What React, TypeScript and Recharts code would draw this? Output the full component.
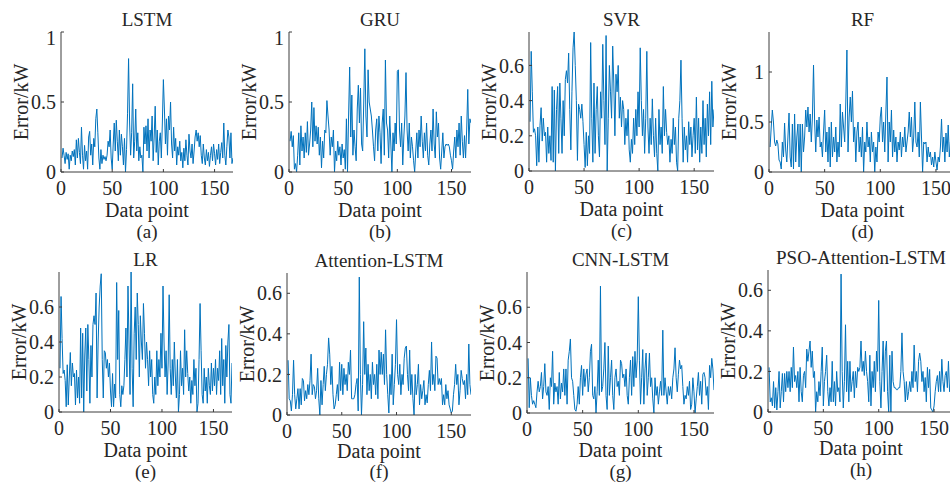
import React from 'react';
import { LineChart, Line, XAxis, YAxis } from 'recharts';

// prediction error of each model over the 168 test points
const lstmError = [
  0.10, 0.17, 0.12, 0.06, 0.14, 0.09, 0.13, 0.02, 0.12, 0.08, 0.15, 0.11,
  0.16, 0.05, 0.23, 0.10, 0.24, 0.14, 0.06, 0.32, 0.12, 0.02, 0.19, 0.08,
  0.15, 0.02, 0.25, 0.29, 0.12, 0.20, 0.05, 0.24, 0.18, 0.38, 0.45, 0.28,
  0.10, 0.02, 0.16, 0.06, 0.12, 0.09, 0.11, 0.08, 0.12, 0.22, 0.18, 0.30,
  0.10, 0.02, 0.20, 0.35, 0.15, 0.37, 0.22, 0.08, 0.30, 0.12, 0.27, 0.18,
  0.05, 0.24, 0.00, 0.16, 0.42, 0.81, 0.35, 0.12, 0.28, 0.63, 0.10, 0.22,
  0.45, 0.15, 0.28, 0.08, 0.18, 0.10, 0.12, 0.00, 0.32, 0.20, 0.33, 0.15,
  0.38, 0.10, 0.30, 0.22, 0.40, 0.08, 0.25, 0.47, 0.14, 0.30, 0.05, 0.22,
  0.28, 0.10, 0.35, 0.66, 0.45, 0.20, 0.38, 0.12, 0.40, 0.30, 0.50, 0.20,
  0.10, 0.32, 0.15, 0.24, 0.05, 0.18, 0.12, 0.22, 0.08, 0.14, 0.03, 0.17,
  0.08, 0.23, 0.12, 0.05, 0.27, 0.15, 0.10, 0.20, 0.06, 0.15, 0.25, 0.30,
  0.22, 0.28, 0.18, 0.26, 0.12, 0.06, 0.20, 0.10, 0.05, 0.16, 0.08, 0.14,
  0.04, 0.12, 0.18, 0.08, 0.20, 0.13, 0.05, 0.16, 0.09, 0.20, 0.06, 0.14,
  0.21, 0.10, 0.35, 0.12, 0.05, 0.18, 0.30, 0.25, 0.10, 0.28, 0.06, 0.10,
];

const gruError = [
  0.22, 0.29, 0.18, 0.26, 0.02, 0.06, 0.00, 0.12, 0.28, 0.05, 0.33, 0.15,
  0.25, 0.10, 0.28, 0.14, 0.36, 0.12, 0.20, 0.30, 0.50, 0.18, 0.46, 0.22,
  0.33, 0.20, 0.32, 0.12, 0.25, 0.03, 0.22, 0.10, 0.30, 0.28, 0.51, 0.40,
  0.30, 0.12, 0.25, 0.18, 0.30, 0.00, 0.15, 0.08, 0.22, 0.12, 0.18, 0.05,
  0.20, 0.10, 0.16, 0.02, 0.38, 0.00, 0.40, 0.75, 0.25, 0.55, 0.12, 0.30,
  0.18, 0.08, 0.45, 0.62, 0.35, 0.60, 0.20, 0.15, 0.50, 0.88, 0.40, 0.25,
  0.73, 0.50, 0.45, 0.40, 0.30, 0.18, 0.08, 0.30, 0.38, 0.15, 0.40, 0.28,
  0.06, 0.35, 0.45, 0.12, 0.80, 0.35, 0.30, 0.10, 0.40, 0.20, 0.00, 0.28,
  0.15, 0.35, 0.20, 0.72, 0.73, 0.30, 0.18, 0.35, 0.05, 0.25, 0.40, 0.71,
  0.30, 0.15, 0.35, 0.10, 0.25, 0.18, 0.08, 0.00, 0.15, 0.28, 0.10, 0.30,
  0.18, 0.40, 0.22, 0.10, 0.28, 0.15, 0.35, 0.12, 0.05, 0.20, 0.30, 0.15,
  0.45, 0.20, 0.10, 0.43, 0.25, 0.35, 0.10, 0.02, 0.15, 0.28, 0.10, 0.18,
  0.20, 0.19, 0.20, 0.18, 0.12, 0.08, 0.02, 0.15, 0.25, 0.10, 0.30, 0.18,
  0.35, 0.12, 0.40, 0.22, 0.10, 0.26, 0.10, 0.30, 0.59, 0.20, 0.38, 0.35,
];

const svrError = [
  0.28, 0.68, 0.45, 0.22, 0.24, 0.20, 0.03, 0.25, 0.05, 0.26, 0.36, 0.17,
  0.30, 0.20, 0.22, 0.05, 0.25, 0.10, 0.20, 0.06, 0.48, 0.05, 0.46, 0.00,
  0.35, 0.48, 0.10, 0.50, 0.30, 0.10, 0.40, 0.20, 0.52, 0.57, 0.50, 0.67,
  0.35, 0.12, 0.45, 0.70, 0.79, 0.60, 0.40, 0.06, 0.38, 0.35, 0.30, 0.38,
  0.28, 0.15, 0.02, 0.22, 0.03, 0.20, 0.10, 0.73, 0.30, 0.05, 0.50, 0.10,
  0.35, 0.48, 0.20, 0.08, 0.45, 0.30, 0.72, 0.40, 0.15, 0.77, 0.00, 0.30,
  0.60, 0.45, 0.30, 0.71, 0.50, 0.20, 0.55, 0.45, 0.60, 0.30, 0.42, 0.25,
  0.40, 0.35, 0.15, 0.30, 0.20, 0.35, 0.12, 0.05, 0.18, 0.10, 0.30, 0.15,
  0.35, 0.20, 0.45, 0.25, 0.70, 0.40, 0.20, 0.35, 0.10, 0.30, 0.68, 0.25,
  0.10, 0.30, 0.15, 0.41, 0.20, 0.08, 0.30, 0.10, 0.00, 0.35, 0.15, 0.25,
  0.10, 0.48, 0.20, 0.35, 0.22, 0.15, 0.20, 0.05, 0.18, 0.10, 0.30, 0.15,
  0.25, 0.05, 0.00, 0.30, 0.40, 0.63, 0.30, 0.05, 0.25, 0.12, 0.20, 0.05,
  0.28, 0.15, 0.25, 0.08, 0.20, 0.30, 0.10, 0.42, 0.12, 0.30, 0.05, 0.25,
  0.10, 0.40, 0.15, 0.30, 0.08, 0.38, 0.20, 0.45, 0.15, 0.51, 0.25, 0.35,
];

const rfError = [
  0.25, 0.45, 0.62, 0.50, 0.30, 0.26, 0.32, 0.28, 0.12, 0.10, 0.03, 0.30,
  0.15, 0.49, 0.22, 0.10, 0.35, 0.59, 0.15, 0.05, 0.48, 0.03, 0.58, 0.10,
  0.35, 0.48, 0.05, 0.48, 0.00, 0.48, 0.20, 0.35, 0.62, 0.45, 0.65, 0.40,
  0.58, 0.30, 0.55, 1.07, 0.50, 0.20, 0.52, 0.35, 0.55, 0.25, 0.30, 0.15,
  0.40, 0.62, 0.20, 0.40, 0.10, 0.45, 0.05, 0.50, 0.15, 0.35, 0.20, 0.45,
  0.10, 0.30, 0.15, 0.68, 0.25, 0.60, 0.45, 0.30, 0.70, 1.22, 0.20, 0.55,
  0.75, 0.50, 0.81, 0.30, 0.45, 0.10, 0.40, 0.50, 0.20, 0.35, 0.15, 0.45,
  0.00, 0.30, 0.20, 0.50, 0.25, 0.35, 0.10, 0.40, 0.20, 0.30, 0.00, 0.25,
  0.10, 0.40, 0.30, 0.55, 0.65, 0.30, 0.50, 0.20, 0.60, 0.95, 0.10, 0.50,
  0.30, 0.62, 0.15, 0.42, 0.20, 0.35, 0.10, 0.30, 0.22, 0.40, 0.15, 0.35,
  0.25, 0.45, 0.20, 0.30, 0.40, 0.60, 0.35, 0.55, 0.20, 0.35, 0.70, 0.30,
  0.25, 0.40, 0.15, 0.70, 0.35, 0.00, 0.30, 0.28, 0.30, 0.10, 0.25, 0.15,
  0.20, 0.07, 0.15, 0.05, 0.20, 0.10, 0.02, 0.15, 0.10, 0.25, 0.53, 0.20,
  0.35, 0.10, 0.39, 0.20, 0.47, 0.15, 0.30, 0.10, 0.35, 0.20, 0.30, 0.25,
];

const lrError = [
  0.25, 0.66, 0.42, 0.22, 0.24, 0.18, 0.03, 0.27, 0.04, 0.20, 0.34, 0.15,
  0.28, 0.20, 0.22, 0.04, 0.24, 0.08, 0.20, 0.05, 0.48, 0.08, 0.45, 0.00,
  0.32, 0.48, 0.12, 0.50, 0.30, 0.05, 0.38, 0.20, 0.50, 0.55, 0.50, 0.68,
  0.08, 0.40, 0.60, 0.72, 0.79, 0.30, 0.08, 0.35, 0.34, 0.25, 0.30, 0.20,
  0.28, 0.12, 0.03, 0.22, 0.03, 0.16, 0.08, 0.74, 0.30, 0.58, 0.10, 0.03,
  0.15, 0.10, 0.15, 0.30, 0.48, 0.20, 0.72, 0.40, 0.10, 0.80, 0.25, 0.03,
  0.45, 0.60, 0.30, 0.68, 0.50, 0.20, 0.55, 0.40, 0.30, 0.62, 0.45, 0.25,
  0.40, 0.30, 0.15, 0.35, 0.20, 0.30, 0.10, 0.05, 0.20, 0.10, 0.35, 0.15,
  0.30, 0.20, 0.45, 0.25, 0.72, 0.40, 0.20, 0.35, 0.10, 0.28, 0.67, 0.25,
  0.10, 0.30, 0.15, 0.40, 0.20, 0.08, 0.30, 0.00, 0.10, 0.35, 0.15, 0.25,
  0.10, 0.47, 0.20, 0.35, 0.22, 0.12, 0.20, 0.05, 0.18, 0.10, 0.30, 0.15,
  0.25, 0.00, 0.05, 0.30, 0.62, 0.35, 0.10, 0.05, 0.25, 0.12, 0.20, 0.05,
  0.25, 0.15, 0.10, 0.28, 0.12, 0.25, 0.15, 0.30, 0.10, 0.25, 0.18, 0.35,
  0.10, 0.42, 0.15, 0.30, 0.05, 0.38, 0.20, 0.40, 0.50, 0.10, 0.05, 0.28,
];

const attLstmError = [
  0.27, 0.08, 0.07, 0.02, 0.10, 0.27, 0.10, 0.03, 0.08, 0.13, 0.03, 0.13,
  0.05, 0.18, 0.17, 0.07, 0.12, 0.08, 0.15, 0.10, 0.17, 0.30, 0.10, 0.15,
  0.14, 0.08, 0.12, 0.23, 0.08, 0.00, 0.17, 0.05, 0.15, 0.24, 0.12, 0.20,
  0.25, 0.38, 0.30, 0.15, 0.24, 0.10, 0.03, 0.05, 0.10, 0.15, 0.07, 0.26,
  0.12, 0.25, 0.10, 0.23, 0.15, 0.20, 0.12, 0.26, 0.20, 0.32, 0.08, 0.08,
  0.08, 0.10, 0.15, 0.18, 0.02, 0.68, 0.20, 0.00, 0.15, 0.46, 0.20, 0.33,
  0.10, 0.25, 0.12, 0.20, 0.08, 0.26, 0.15, 0.20, 0.10, 0.25, 0.08, 0.32,
  0.20, 0.31, 0.20, 0.30, 0.15, 0.42, 0.20, 0.10, 0.01, 0.20, 0.10, 0.30,
  0.05, 0.15, 0.25, 0.47, 0.20, 0.15, 0.25, 0.10, 0.20, 0.15, 0.28, 0.33,
  0.34, 0.20, 0.12, 0.32, 0.10, 0.20, 0.08, 0.00, 0.20, 0.10, 0.15, 0.25,
  0.05, 0.15, 0.08, 0.12, 0.17, 0.05, 0.10, 0.06, 0.15, 0.22, 0.12, 0.36,
  0.15, 0.20, 0.12, 0.29, 0.28, 0.15, 0.18, 0.15, 0.18, 0.05, 0.10, 0.05,
  0.15, 0.08, 0.12, 0.05, 0.03, 0.01, 0.02, 0.10, 0.15, 0.25, 0.15, 0.20,
  0.05, 0.12, 0.22, 0.18, 0.15, 0.17, 0.08, 0.20, 0.10, 0.35, 0.15, 0.10,
];

const cnnLstmError = [
  0.31, 0.03, 0.20, 0.10, 0.05, 0.07, 0.05, 0.03, 0.12, 0.18, 0.12, 0.15,
  0.23, 0.08, 0.15, 0.28, 0.12, 0.10, 0.15, 0.02, 0.20, 0.15, 0.35, 0.05,
  0.17, 0.12, 0.15, 0.05, 0.23, 0.08, 0.17, 0.12, 0.25, 0.10, 0.25, 0.05,
  0.30, 0.35, 0.42, 0.20, 0.18, 0.10, 0.02, 0.01, 0.05, 0.15, 0.05, 0.20,
  0.27, 0.10, 0.25, 0.15, 0.22, 0.25, 0.12, 0.20, 0.35, 0.39, 0.10, 0.08,
  0.15, 0.00, 0.12, 0.30, 0.10, 0.72, 0.12, 0.15, 0.25, 0.40, 0.10, 0.02,
  0.38, 0.10, 0.20, 0.30, 0.10, 0.02, 0.20, 0.25, 0.15, 0.18, 0.10, 0.30,
  0.28, 0.20, 0.22, 0.15, 0.25, 0.10, 0.05, 0.20, 0.30, 0.10, 0.32, 0.15,
  0.35, 0.20, 0.30, 0.66, 0.30, 0.05, 0.20, 0.36, 0.05, 0.25, 0.34, 0.10,
  0.20, 0.34, 0.15, 0.20, 0.08, 0.00, 0.20, 0.10, 0.15, 0.05, 0.12, 0.18,
  0.10, 0.47, 0.10, 0.20, 0.12, 0.05, 0.15, 0.10, 0.15, 0.08, 0.20, 0.25,
  0.37, 0.20, 0.12, 0.22, 0.30, 0.25, 0.27, 0.15, 0.05, 0.10, 0.08, 0.15,
  0.10, 0.18, 0.02, 0.05, 0.20, 0.12, 0.00, 0.08, 0.15, 0.23, 0.10, 0.18,
  0.05, 0.22, 0.23, 0.20, 0.10, 0.15, 0.02, 0.27, 0.20, 0.31, 0.25, 0.13,
];

const psoAttLstmError = [
  0.22, 0.05, 0.07, 0.03, 0.15, 0.02, 0.12, 0.01, 0.10, 0.20, 0.02, 0.10,
  0.19, 0.05, 0.19, 0.10, 0.20, 0.12, 0.20, 0.10, 0.22, 0.12, 0.32, 0.15,
  0.18, 0.12, 0.20, 0.05, 0.22, 0.10, 0.05, 0.18, 0.20, 0.12, 0.31, 0.25,
  0.30, 0.35, 0.22, 0.30, 0.17, 0.20, 0.00, 0.10, 0.05, 0.15, 0.08, 0.20,
  0.32, 0.03, 0.15, 0.20, 0.28, 0.10, 0.03, 0.12, 0.05, 0.25, 0.05, 0.15,
  0.03, 0.20, 0.10, 0.12, 0.05, 0.68, 0.20, 0.02, 0.15, 0.43, 0.10, 0.25,
  0.05, 0.25, 0.10, 0.15, 0.20, 0.07, 0.20, 0.12, 0.22, 0.20, 0.22, 0.35,
  0.20, 0.25, 0.18, 0.30, 0.20, 0.15, 0.05, 0.28, 0.03, 0.20, 0.12, 0.25,
  0.10, 0.30, 0.20, 0.55, 0.15, 0.02, 0.20, 0.35, 0.10, 0.30, 0.35, 0.10,
  0.00, 0.28, 0.00, 0.30, 0.15, 0.12, 0.12, 0.11, 0.11, 0.12, 0.12, 0.20,
  0.39, 0.20, 0.15, 0.05, 0.15, 0.06, 0.10, 0.15, 0.10, 0.20, 0.12, 0.33,
  0.15, 0.20, 0.10, 0.25, 0.29, 0.25, 0.15, 0.20, 0.10, 0.17, 0.05, 0.22,
  0.12, 0.21, 0.02, 0.01, 0.00, 0.03, 0.10, 0.15, 0.18, 0.10, 0.20, 0.10,
  0.26, 0.15, 0.10, 0.18, 0.20, 0.12, 0.25, 0.10, 0.15, 0.20, 0.12, 0.18,
];

const xTicks = [0, 50, 100, 150];
const coarseTicks = [0, 0.5, 1];
const fineTicks = [0, 0.2, 0.4, 0.6];

const FONT = '"Liberation Serif", "Times New Roman", serif';
const INK = '#262626';
const AXIS = '#3c3c3c';
const BLUE = '#0072BD';

type PanelDef = {
  title: string;
  tag: string;
  values: number[];
  yMax: number;
  yTicks: number[];
  box: [number, number, number, number]; // left, top, right, bottom of plot area
  labelY: number; // centre of "Data point"
  tagY: number; // centre of the (a)..(h) caption
};

const panels: PanelDef[] = [
  { title: 'LSTM', tag: '(a)', values: lstmError, yMax: 1, yTicks: coarseTicks, box: [61, 32, 233, 172], labelY: 210, tagY: 231 },
  { title: 'GRU', tag: '(b)', values: gruError, yMax: 1, yTicks: coarseTicks, box: [289, 32, 471, 172], labelY: 210, tagY: 231 },
  { title: 'SVR', tag: '(c)', values: svrError, yMax: 0.79, yTicks: fineTicks, box: [529, 32, 714, 171], labelY: 209, tagY: 230 },
  { title: 'RF', tag: '(d)', values: rfError, yMax: 1.4, yTicks: coarseTicks, box: [769, 32, 956, 172], labelY: 210, tagY: 231 },
  { title: 'LR', tag: '(e)', values: lrError, yMax: 0.8, yTicks: fineTicks, box: [59, 272, 232, 412], labelY: 450, tagY: 471 },
  { title: 'Attention-LSTM', tag: '(f)', values: attLstmError, yMax: 0.7, yTicks: fineTicks, box: [287, 273, 471, 415], labelY: 451, tagY: 471 },
  { title: 'CNN-LSTM', tag: '(g)', values: cnnLstmError, yMax: 0.8, yTicks: fineTicks, box: [527, 272, 714, 413], labelY: 450, tagY: 471 },
  { title: 'PSO-Attention-LSTM', tag: '(h)', values: psoAttLstmError, yMax: 0.7, yTicks: fineTicks, box: [768, 270, 954, 412], labelY: 448, tagY: 469 },
];

const textBase: React.CSSProperties = {
  position: 'absolute',
  fontFamily: FONT,
  fontWeight: 400,
  color: INK,
  whiteSpace: 'nowrap',
  lineHeight: 1,
  transform: 'translate(-50%, -50%)',
};

function ErrorPanel({ p }: { p: PanelDef }) {
  const [L, T, R, B] = p.box;
  const padL = 70;
  const padT = 6;
  const padR = 6;
  const padB = 36;
  const w = R - L + padL + padR;
  const h = B - T + padT + padB;
  const data = p.values.map((v, i) => ({ idx: i + 1, err: v }));
  const cx = (L + R) / 2;
  const tickStyle = { fill: INK, fontSize: 20, fontFamily: FONT };

  return (
    <>
      <div style={{ position: 'absolute', left: L - padL, top: T - padT }}>
        <LineChart width={w} height={h} data={data} margin={{ top: padT, right: padR, left: 0, bottom: 0 }}>
          <XAxis
            xAxisId="bottom"
            dataKey="idx"
            type="number"
            domain={[0, 168]}
            ticks={xTicks}
            allowDataOverflow
            height={padB}
            stroke={AXIS}
            tickSize={-3}
            tickMargin={12}
            tick={tickStyle}
          />
          <XAxis
            xAxisId="top"
            orientation="top"
            dataKey="idx"
            type="number"
            domain={[0, 168]}
            ticks={xTicks}
            allowDataOverflow
            height={0}
            stroke={AXIS}
            tickSize={-3}
            tick={false}
          />
          <YAxis
            yAxisId="left"
            type="number"
            domain={[0, p.yMax]}
            ticks={p.yTicks}
            allowDataOverflow
            width={padL}
            stroke={AXIS}
            tickSize={-3}
            tickMargin={8}
            tick={tickStyle}
          />
          <YAxis
            yAxisId="right"
            orientation="right"
            type="number"
            domain={[0, p.yMax]}
            ticks={p.yTicks}
            allowDataOverflow
            width={0}
            stroke={AXIS}
            tickSize={-3}
            tick={false}
          />
          <Line
            xAxisId="bottom"
            yAxisId="left"
            type="linear"
            dataKey="err"
            stroke={BLUE}
            strokeWidth={1}
            dot={false}
            isAnimationActive={false}
          />
        </LineChart>
      </div>
      <div style={{ ...textBase, left: cx, top: T - 13, fontSize: 19 }}>{p.title}</div>
      <div style={{ ...textBase, left: L - 40, top: (T + B) / 2, fontSize: 20, transform: 'translate(-50%, -50%) rotate(-90deg)' }}>
        Error/kW
      </div>
      <div style={{ ...textBase, left: cx, top: p.labelY, fontSize: 20 }}>Data point</div>
      <div style={{ ...textBase, left: cx, top: p.tagY, fontSize: 19 }}>{p.tag}</div>
    </>
  );
}

export default function App() {
  return (
    <div
      style={{
        position: 'absolute',
        left: 0,
        top: 0,
        width: 950,
        height: 483,
        overflow: 'hidden',
        background: '#fff',
      }}
    >
      {panels.map((p) => (
        <ErrorPanel key={p.tag} p={p} />
      ))}
    </div>
  );
}
